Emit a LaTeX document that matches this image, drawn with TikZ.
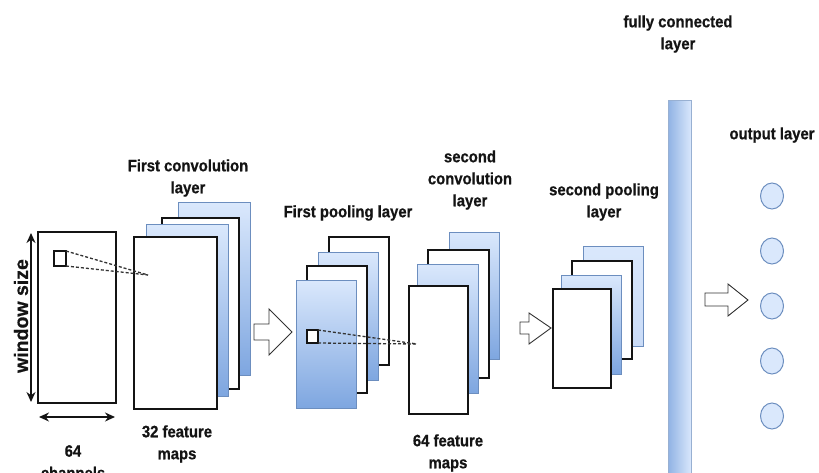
\documentclass[tikz,border=0pt]{standalone}
\usepackage{fontspec}
\setmainfont{Liberation Sans}[BoldFeatures={FakeBold=0.7, FakeStretch=0.9}]
\newfontfamily\wsfont{Liberation Sans}[BoldFeatures={FakeBold=0.6}]
\usetikzlibrary{arrows.meta,shapes.geometric}
\definecolor{fmfill}{HTML}{DAE8FC}
\definecolor{fmdark}{HTML}{7EA6E0}
\definecolor{fmline}{HTML}{6C8EBF}
\definecolor{fmpale}{HTML}{C9DBF7}
\definecolor{ink}{HTML}{141414}
\definecolor{arrowline}{HTML}{333333}

\begin{document}
\begin{tikzpicture}[x=1pt,y=-1pt,
  lbl/.style={font=\fontsize{16.5}{22}\selectfont\bfseries, align=center, inner sep=0, text=ink},
  plainmap/.style={draw=ink, line width=1.2pt, fill=white, inner sep=0, outer sep=0, anchor=north west},
  bluemap/.style={draw=fmline, line width=1pt, top color=fmfill, bottom color=fmdark, inner sep=0, outer sep=0, anchor=north west},
  palemap/.style={draw=fmline, line width=1pt, top color=fmfill, bottom color=fmpale, inner sep=0, outer sep=0, anchor=north west},
  window/.style={draw=ink, line width=1.1pt, fill=white, inner sep=0, outer sep=0, anchor=north west},
  dashline/.style={draw=arrowline, line width=1.3pt, dash pattern=on 3pt off 2pt},
  dimarrow/.style={{Stealth[length=10pt,width=9pt]}-{Stealth[length=10pt,width=9pt]}, line width=1.4pt, draw=ink},
  blockarrow/.style={draw=arrowline, line width=0.9pt, fill=white, line join=miter},
  outnode/.style={ellipse, draw=fmline, line width=1pt, fill=fmfill, minimum width=23, minimum height=26, inner sep=0},
]
\useasboundingbox (0,0) rectangle (819,473);

% input window
\node[plainmap, minimum width=78, minimum height=171] (inp) at (38,232) {};
\node[window, minimum width=12, minimum height=15] (sq1) at (54,251) {};
\coordinate (vtop) at (31,233);
\coordinate (vbot) at (31,402);
\draw[dimarrow] (vtop) -- (vbot);
\coordinate (hl) at (39,417);
\coordinate (hr) at (115,417);
\draw[dimarrow] (hl) -- (hr);
\node[lbl, font=\wsfont\fontsize{19.5}{20}\selectfont\bfseries, rotate=90] (ws) at (21,316) {window size};
\node[lbl] (ch) at (73,462) {64\\channels};

% first convolution layer
\node[bluemap,  minimum width=72, minimum height=172] (c1d) at (178,203) {};
\node[plainmap, minimum width=77, minimum height=171] (c1c) at (162,218) {};
\node[bluemap,  minimum width=82, minimum height=171] (c1b) at (146,225) {};
\node[plainmap, minimum width=83, minimum height=172] (c1a) at (134,237) {};
\coordinate (t1) at (148,275);
\draw[dashline] (sq1.north east) -- (t1);
\draw[dashline] (sq1.south east) -- (t1);
\node[lbl] (c1lbl) at (188,178) {First convolution\\layer};
\node[lbl] (c1n) at (177,444) {32 feature\\maps};

% arrow into first pooling layer
\draw[blockarrow] (254,324) -- (269,324) -- (269,309) -- (292,332) -- (269,355) -- (269,340) -- (254,340) -- cycle;

% first pooling layer
\node[plainmap, minimum width=60, minimum height=128] (p1d) at (329,237) {};
\node[bluemap,  minimum width=60, minimum height=128] (p1c) at (318,252) {};
\node[plainmap, minimum width=60, minimum height=127] (p1b) at (307,266) {};
\node[bluemap,  minimum width=60, minimum height=128] (p1a) at (296,280) {};
\node[window, minimum width=11, minimum height=13] (sq2) at (307,330) {};
\node[lbl] (p1lbl) at (348,213) {First pooling layer};

% second convolution layer
\node[bluemap,  minimum width=50, minimum height=127] (c2d) at (449,232) {};
\node[plainmap, minimum width=61, minimum height=128] (c2c) at (428,250) {};
\node[bluemap,  minimum width=61, minimum height=129] (c2b) at (417,264) {};
\node[plainmap, minimum width=59, minimum height=128] (c2a) at (409,286) {};
\coordinate (t2) at (417,344);
\draw[dashline] (sq2.north east) -- (t2);
\draw[dashline] (sq2.south east) -- (t2);
\node[lbl] (c2lbl) at (470,180) {second\\convolution\\layer};
\node[lbl] (c2n) at (448,453) {64 feature\\maps};

% arrow into second pooling layer
\draw[blockarrow] (520,322) -- (529,322) -- (529,313) -- (551,328) -- (529,344) -- (529,334) -- (520,334) -- cycle;

% second pooling layer
\node[palemap,  minimum width=60, minimum height=100] (p2d) at (583,246) {};
\node[plainmap, minimum width=60, minimum height=98] (p2c) at (572,261) {};
\node[bluemap,  minimum width=60, minimum height=99] (p2b) at (561,275) {};
\node[plainmap, minimum width=58, minimum height=99] (p2a) at (553,289) {};
\node[lbl] (p2lbl) at (604,202) {second pooling\\layer};

% fully connected layer
\node[draw=fmline!70, line width=0.8pt, left color=fmdark!85, right color=fmfill, anchor=north west,
      minimum width=23, minimum height=390, inner sep=0] (fc) at (668,100) {};
\node[lbl] (fclbl) at (678,34) {fully connected\\layer};

% arrow into output layer
\draw[blockarrow] (705,293) -- (728,293) -- (728,284) -- (748,300) -- (728,316) -- (728,306) -- (705,306) -- cycle;

% output layer
\node[outnode] (o1) at (772,196) {};
\node[outnode] (o2) at (772,251) {};
\node[outnode] (o3) at (772,306) {};
\node[outnode] (o4) at (772,361) {};
\node[outnode] (o5) at (772,416) {};
\node[lbl] (olbl) at (772,135) {output layer};
\end{tikzpicture}
\end{document}
